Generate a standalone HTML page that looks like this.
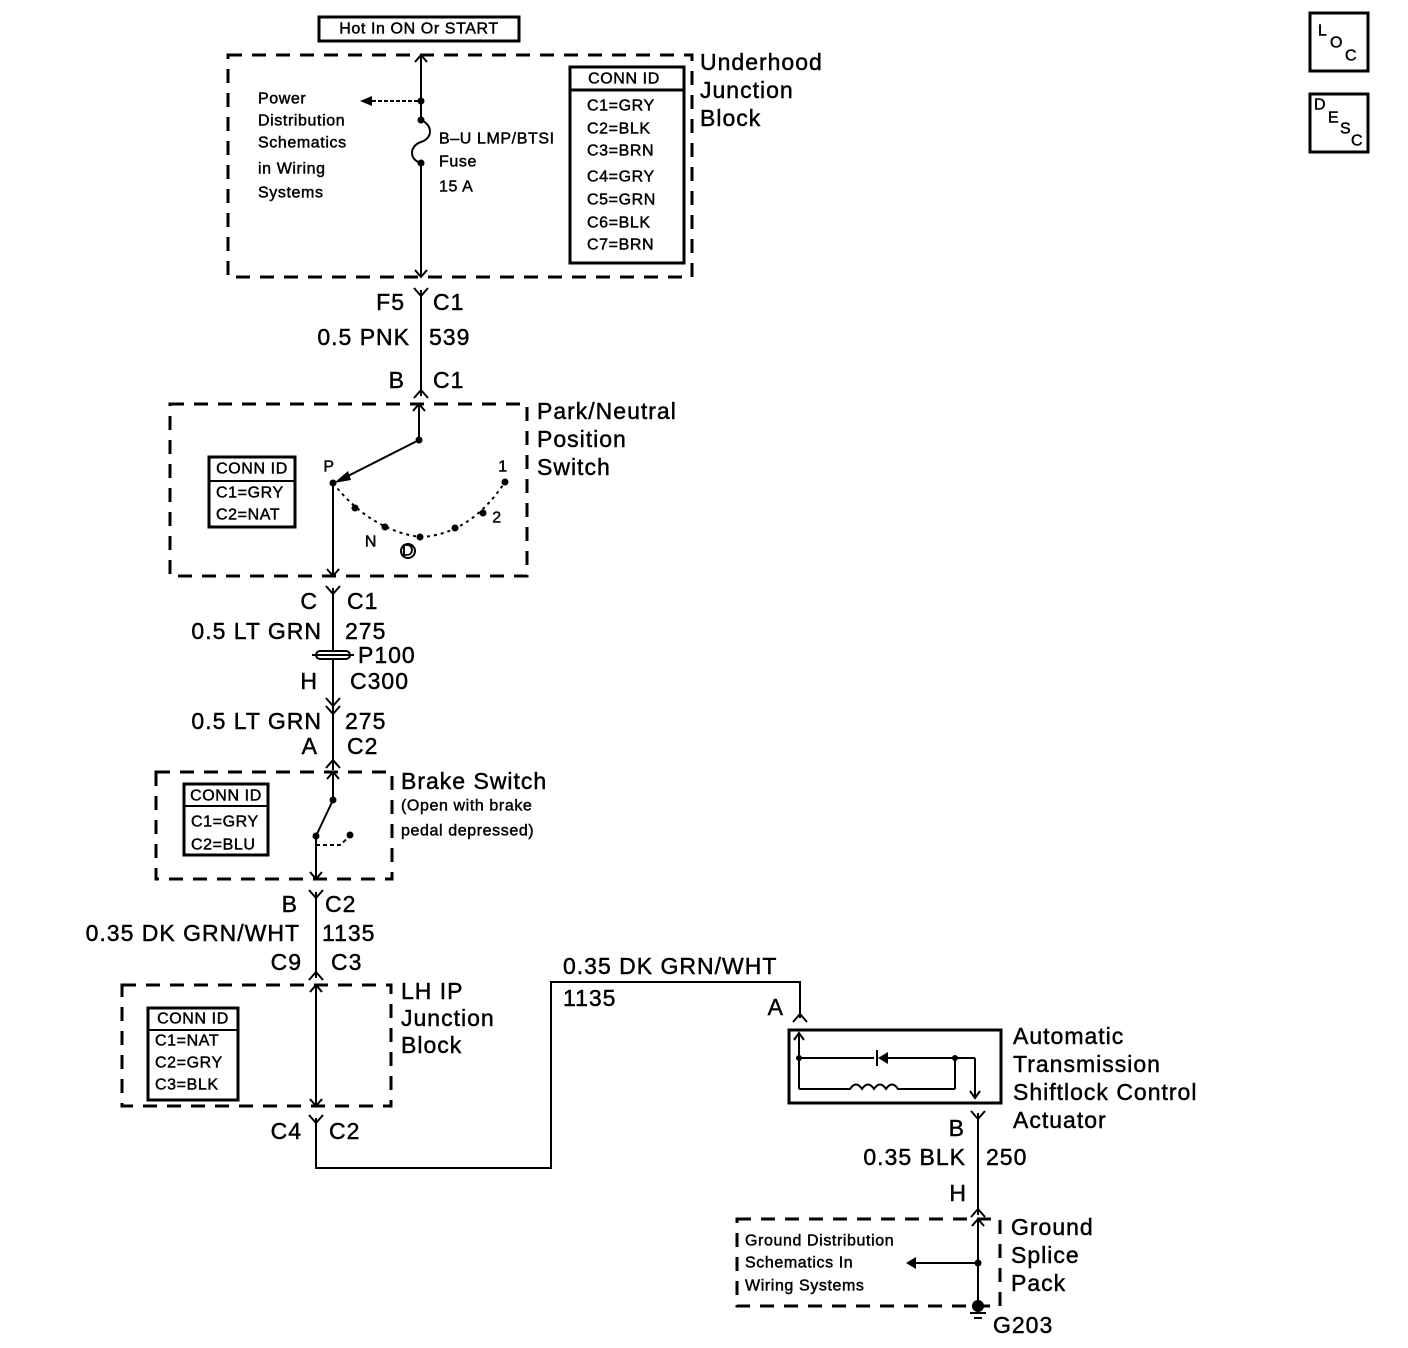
<!DOCTYPE html>
<html><head><meta charset="utf-8"><style>
html,body{margin:0;padding:0;background:#fff;}
svg{display:block;}
text{font-family:"Liberation Sans",sans-serif;fill:#000;dominant-baseline:central;stroke:#000;stroke-width:0.45;}
.l{font-size:23px;letter-spacing:1px;}
.s{font-size:16px;letter-spacing:0.6px;}
.d{fill:none;stroke:#000;stroke-width:3;stroke-dasharray:14,10;}
.w{fill:none;stroke:#000;stroke-width:2;}
.b{fill:none;stroke:#000;stroke-width:3;}
</style></head><body>
<svg width="1408" height="1348" viewBox="0 0 1408 1348" xmlns="http://www.w3.org/2000/svg">
<!-- LOC / DESC -->
<rect x="1310" y="13" width="58" height="58" class="b"/>
<text x="1318" y="31" class="s">L</text><text x="1330" y="43" class="s">O</text><text x="1345" y="56" class="s">C</text>
<rect x="1310" y="94" width="58" height="58" class="b"/>
<text x="1314" y="105" class="s">D</text><text x="1328" y="118" class="s">E</text><text x="1340" y="129" class="s">S</text><text x="1351" y="141" class="s">C</text>

<!-- Hot in -->
<rect x="319" y="17" width="200" height="24" class="b"/>
<text x="419" y="29" class="s" text-anchor="middle">Hot In ON Or START</text>

<!-- Underhood -->
<rect x="228" y="55" width="464" height="222" class="d"/>
<line x1="421" y1="55" x2="421" y2="120" class="w"/>
<line x1="421" y1="163" x2="421" y2="277" class="w"/>
<path d="M421 120 C433 125,433 138,421 142 C409 146,409 160,421 163" class="w"/>
<circle cx="421" cy="101" r="3.5"/><circle cx="421" cy="120" r="3.5"/><circle cx="421" cy="163" r="3.5"/>
<line x1="372" y1="101" x2="421" y2="101" class="w" stroke-dasharray="4,2"/>
<path d="M360 101 L372 96 L372 106 Z"/>
<path d="M415 62 L421 55 L427 62 M415 270 L421 277 L427 270" class="w"/>
<text x="258" y="99" class="s">Power</text>
<text x="258" y="121" class="s">Distribution</text>
<text x="258" y="143" class="s">Schematics</text>
<text x="258" y="169" class="s">in Wiring</text>
<text x="258" y="193" class="s">Systems</text>
<text x="439" y="139" class="s">B–U LMP/BTSI</text>
<text x="439" y="162" class="s">Fuse</text>
<text x="439" y="187" class="s">15 A</text>
<rect x="570" y="67" width="114" height="196" class="b" stroke-width="4"/>
<line x1="570" y1="90" x2="684" y2="90" class="b"/>
<text x="624" y="79" class="s" text-anchor="middle">CONN ID</text>
<text x="587" y="106" class="s">C1=GRY</text>
<text x="587" y="129" class="s">C2=BLK</text>
<text x="587" y="151" class="s">C3=BRN</text>
<text x="587" y="177" class="s">C4=GRY</text>
<text x="587" y="200" class="s">C5=GRN</text>
<text x="587" y="223" class="s">C6=BLK</text>
<text x="587" y="245" class="s">C7=BRN</text>
<text x="700" y="62" class="l">Underhood</text>
<text x="700" y="90" class="l">Junction</text>
<text x="700" y="118" class="l">Block</text>

<!-- wire 539 -->
<line x1="421" y1="290" x2="421" y2="396" class="w"/>
<path d="M414 288 L421 296 L428 288 M414 398 L421 390 L428 398" class="w"/>
<text x="405" y="302" class="l" text-anchor="end">F5</text><text x="433" y="302" class="l">C1</text>
<text x="410" y="337" class="l" text-anchor="end">0.5 PNK</text><text x="429" y="337" class="l">539</text>
<text x="405" y="380" class="l" text-anchor="end">B</text><text x="433" y="380" class="l">C1</text>

<!-- Park neutral -->
<rect x="170" y="404" width="357" height="172" class="d"/>
<line x1="419" y1="404" x2="419" y2="440" class="w"/>
<path d="M413 411 L419 404 L425 411" class="w"/>
<circle cx="419" cy="440" r="3.5"/>
<line x1="419" y1="440" x2="340" y2="480" class="w"/>
<path d="M334 483 L348 471 L351 480 Z"/>
<line x1="333" y1="483" x2="333" y2="576" class="w"/>
<path d="M327 569 L333 576 L339 569" class="w"/>
<path d="M333 483 Q370 530 420 537 Q470 535 505 482" class="w" stroke-dasharray="3,4"/>
<circle cx="333" cy="483" r="3.5"/><circle cx="355" cy="508" r="3.5"/><circle cx="385" cy="527" r="3.5"/><circle cx="420" cy="537" r="3.5"/><circle cx="455" cy="528" r="3.5"/><circle cx="483" cy="513" r="3.5"/><circle cx="505" cy="482" r="3.5"/>
<text x="329" y="467" class="s" text-anchor="middle">P</text>
<text x="503" y="467" class="s" text-anchor="middle">1</text>
<text x="497" y="518" class="s" text-anchor="middle">2</text>
<text x="371" y="542" class="s" text-anchor="middle">N</text>
<text x="408" y="551" class="s" text-anchor="middle">D</text>
<circle cx="408" cy="551" r="7" class="w" stroke-width="1.5"/>
<rect x="209" y="457" width="86" height="70" class="b"/>
<line x1="209" y1="481" x2="295" y2="481" class="w"/>
<text x="252" y="469" class="s" text-anchor="middle">CONN ID</text>
<text x="216" y="493" class="s">C1=GRY</text>
<text x="216" y="515" class="s">C2=NAT</text>
<text x="537" y="411" class="l">Park/Neutral</text>
<text x="537" y="439" class="l">Position</text>
<text x="537" y="467" class="l">Switch</text>

<!-- wire 275 -->
<line x1="333" y1="588" x2="333" y2="770" class="w"/>
<path d="M326 586 L333 594 L340 586 M326 698 L333 706 L340 698 M326 706 L333 714 L340 706 M326 768 L333 760 L340 768" class="w"/>
<text x="318" y="601" class="l" text-anchor="end">C</text><text x="347" y="601" class="l">C1</text>
<text x="322" y="631" class="l" text-anchor="end">0.5 LT GRN</text><text x="345" y="631" class="l">275</text>
<rect x="316" y="651" width="34" height="8" rx="4" fill="#fff" stroke="#000" stroke-width="2"/>
<line x1="312" y1="655" x2="354" y2="655" class="w"/>
<text x="358" y="655" class="l">P100</text>
<text x="318" y="681" class="l" text-anchor="end">H</text><text x="350" y="681" class="l">C300</text>
<text x="322" y="721" class="l" text-anchor="end">0.5 LT GRN</text><text x="345" y="721" class="l">275</text>
<text x="318" y="746" class="l" text-anchor="end">A</text><text x="347" y="746" class="l">C2</text>

<!-- Brake switch -->
<rect x="156" y="772" width="236" height="107" class="d"/>
<line x1="333" y1="772" x2="333" y2="800" class="w"/>
<path d="M327 779 L333 772 L339 779" class="w"/>
<circle cx="333" cy="800" r="3.5"/>
<line x1="333" y1="800" x2="316" y2="836" class="w"/>
<circle cx="316" cy="836" r="3.5"/>
<line x1="316" y1="836" x2="316" y2="879" class="w"/>
<path d="M310 872 L316 879 L322 872" class="w"/>
<path d="M316 845 L340 845 L350 836" class="w" stroke-dasharray="4,3"/>
<circle cx="350" cy="835" r="3.5"/>
<rect x="184" y="784" width="84" height="71" class="b"/>
<line x1="184" y1="806" x2="268" y2="806" class="w"/>
<text x="226" y="796" class="s" text-anchor="middle">CONN ID</text>
<text x="191" y="822" class="s">C1=GRY</text>
<text x="191" y="845" class="s">C2=BLU</text>
<text x="401" y="781" class="l">Brake Switch</text>
<text x="401" y="806" class="s">(Open with brake</text>
<text x="401" y="831" class="s">pedal depressed)</text>

<!-- wire 1135 -->
<line x1="316" y1="892" x2="316" y2="978" class="w"/>
<path d="M309 890 L316 898 L323 890 M309 980 L316 972 L323 980" class="w"/>
<text x="298" y="904" class="l" text-anchor="end">B</text><text x="325" y="904" class="l">C2</text>
<text x="300" y="933" class="l" text-anchor="end">0.35 DK GRN/WHT</text><text x="322" y="933" class="l">1135</text>
<text x="302" y="962" class="l" text-anchor="end">C9</text><text x="331" y="962" class="l">C3</text>

<!-- LH IP -->
<rect x="122" y="985" width="269" height="121" class="d"/>
<line x1="316" y1="985" x2="316" y2="1106" class="w"/>
<path d="M310 992 L316 985 L322 992 M310 1099 L316 1106 L322 1099" class="w"/>
<rect x="148" y="1008" width="90" height="92" class="b"/>
<line x1="148" y1="1030" x2="238" y2="1030" class="w"/>
<text x="193" y="1019" class="s" text-anchor="middle">CONN ID</text>
<text x="155" y="1041" class="s">C1=NAT</text>
<text x="155" y="1063" class="s">C2=GRY</text>
<text x="155" y="1085" class="s">C3=BLK</text>
<text x="401" y="991" class="l">LH IP</text>
<text x="401" y="1018" class="l">Junction</text>
<text x="401" y="1045" class="l">Block</text>
<text x="302" y="1131" class="l" text-anchor="end">C4</text><text x="329" y="1131" class="l">C2</text>
<path d="M309 1115 L316 1123 L323 1115" class="w"/>
<polyline points="316,1118 316,1168 551,1168 551,982 800,982 800,1018" class="w"/>
<path d="M793 1022 L800 1014 L807 1022" class="w"/>
<text x="563" y="966" class="l">0.35 DK GRN/WHT</text>
<text x="563" y="998" class="l">1135</text>
<text x="784" y="1007" class="l" text-anchor="end">A</text>

<!-- actuator -->
<rect x="789" y="1030" width="212" height="73" class="b"/>
<line x1="799" y1="1033" x2="799" y2="1089" class="w"/>
<path d="M794 1040 L799 1033 L804 1040" class="w"/>
<circle cx="799" cy="1058" r="3"/>
<line x1="799" y1="1058" x2="874" y2="1058" class="w"/>
<line x1="877" y1="1050" x2="877" y2="1066" class="w"/>
<path d="M878 1058 L888 1052 L888 1064 Z"/>
<line x1="888" y1="1058" x2="975" y2="1058" class="w"/>
<circle cx="955" cy="1058" r="3"/>
<line x1="955" y1="1058" x2="955" y2="1089" class="w"/>
<line x1="975" y1="1058" x2="975" y2="1098" class="w"/>
<path d="M970 1091 L975 1098 L980 1091" class="w"/>
<path d="M799 1089 L850 1089 q6 -9 12 0 q6 -9 12 0 q6 -9 12 0 q6 -9 12 0 L955 1089" class="w"/>
<text x="1013" y="1036" class="l">Automatic</text>
<text x="1013" y="1064" class="l">Transmission</text>
<text x="1013" y="1092" class="l">Shiftlock Control</text>
<text x="1013" y="1120" class="l">Actuator</text>

<!-- wire 250 -->
<line x1="978" y1="1113" x2="978" y2="1215" class="w"/>
<path d="M971 1111 L978 1119 L985 1111 M971 1217 L978 1209 L985 1217" class="w"/>
<text x="965" y="1128" class="l" text-anchor="end">B</text>
<text x="966" y="1157" class="l" text-anchor="end">0.35 BLK</text><text x="986" y="1157" class="l">250</text>
<text x="967" y="1193" class="l" text-anchor="end">H</text>

<!-- ground splice -->
<rect x="737" y="1219" width="263" height="87" class="d"/>
<line x1="978" y1="1219" x2="978" y2="1306" class="w"/>
<path d="M972 1226 L978 1219 L984 1226" class="w"/>
<circle cx="978" cy="1263" r="3.5"/>
<line x1="910" y1="1263" x2="978" y2="1263" class="w"/>
<path d="M906 1263 L916 1257 L916 1269 Z"/>
<circle cx="978" cy="1306" r="6"/>
<line x1="970" y1="1313" x2="986" y2="1313" class="w"/>
<line x1="974" y1="1318" x2="982" y2="1318" class="w"/>
<text x="745" y="1241" class="s">Ground Distribution</text>
<text x="745" y="1263" class="s">Schematics In</text>
<text x="745" y="1286" class="s">Wiring Systems</text>
<text x="1011" y="1227" class="l">Ground</text>
<text x="1011" y="1255" class="l">Splice</text>
<text x="1011" y="1283" class="l">Pack</text>
<text x="993" y="1325" class="l">G203</text>
</svg>
</body></html>
